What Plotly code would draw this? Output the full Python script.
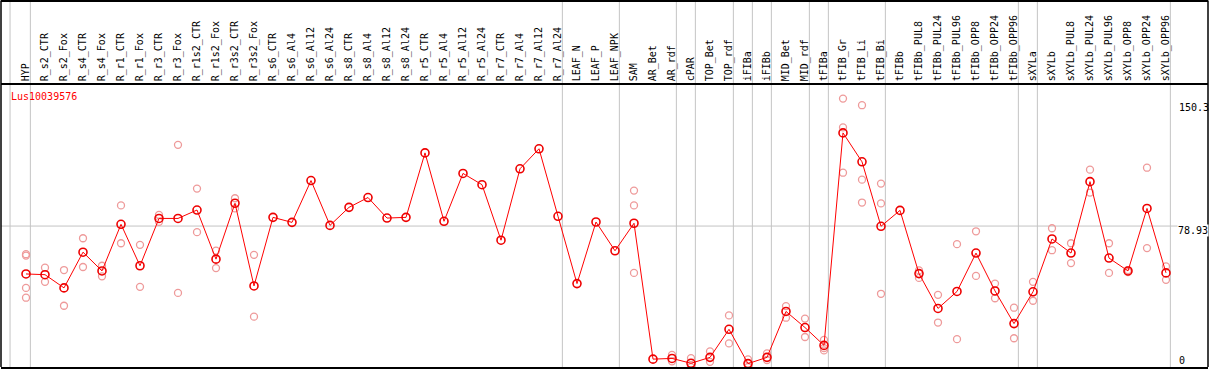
import plotly.graph_objects as go

# ---------------- data ----------------
gene = "Lus10039576"

categories = [
    "HYP", "R_s2_CTR", "R_s2_Fox", "R_s4_CTR", "R_s4_Fox", "R_r1_CTR", "R_r1_Fox",
    "R_r3_CTR", "R_r3_Fox", "R_r1s2_CTR", "R_r1s2_Fox", "R_r3s2_CTR", "R_r3s2_Fox",
    "R_s6_CTR", "R_s6_Al4", "R_s6_Al12", "R_s6_Al24", "R_s8_CTR", "R_s8_Al4",
    "R_s8_Al12", "R_s8_Al24", "R_r5_CTR", "R_r5_Al4", "R_r5_Al12", "R_r5_Al24",
    "R_r7_CTR", "R_r7_Al4", "R_r7_Al12", "R_r7_Al24", "LEAF_N", "LEAF_P", "LEAF_NPK",
    "SAM", "AR_Bet", "AR_rdf", "cPAR", "TOP_Bet", "TOP_rdf", "iFIBa", "iFIBb",
    "MID_Bet", "MID_rdf", "tFIBa", "tFIB_Gr", "tFIB_Li", "tFIB_Bi", "tFIBb",
    "tFIBb_PUL8", "tFIBb_PUL24", "tFIBb_PUL96", "tFIBb_OPP8", "tFIBb_OPP24", "tFIBb_OPP96",
    "sXYLa", "sXYLb", "sXYLb_PUL8", "sXYLb_PUL24", "sXYLb_PUL96", "sXYLb_OPP8",
    "sXYLb_OPP24", "sXYLb_OPP96",
]

mean_values = [
    52.1, 51.7, 44.3, 64.3, 53.8, 79.9, 56.7, 83.2, 83.2, 87.9, 60.4, 91.7, 45.4,
    83.8, 81.0, 104.4, 79.3, 89.4, 94.9, 83.4, 83.8, 119.9, 81.6, 108.4, 102.1,
    71.0, 111.0, 122.2, 84.4, 46.7, 81.2, 65.1,
    80.5, 4.4, 4.8, 2.1, 5.4, 21.1, 1.9, 5.4, 31.1, 22.1, 12.1, 131.1, 114.9, 78.8,
    87.7, 52.3, 32.8, 42.3, 63.8, 42.6, 24.3,
    42.1, 71.7, 63.8, 103.8, 61.0, 53.8, 88.8, 52.7,
]

replicate_values = {
    "HYP": [63.2, 62.4, 44.3, 38.8],
    "R_s2_CTR": [55.6, 47.7],
    "R_s2_Fox": [54.3, 34.3],
    "R_s4_CTR": [72.1, 56.0],
    "R_s4_Fox": [56.7, 50.8],
    "R_r1_CTR": [90.5, 69.3],
    "R_r1_Fox": [68.4, 44.9],
    "R_r3_CTR": [85.2, 81.3],
    "R_r3_Fox": [124.4, 41.5],
    "R_r1s2_CTR": [99.9, 75.5],
    "R_r1s2_Fox": [65.2, 55.4],
    "R_r3s2_CTR": [94.5, 88.8],
    "R_r3s2_Fox": [62.8, 28.2],
    "SAM": [98.8, 90.5, 52.7],
    "AR_rdf": [6.8, 3.2],
    "cPAR": [5.0, 0.0],
    "TOP_Bet": [8.7, 2.9],
    "TOP_rdf": [28.9, 13.2],
    "iFIBa": [4.3, 0.0],
    "iFIBb": [7.6, 3.9],
    "MID_Bet": [34.1, 27.6],
    "MID_rdf": [27.1, 16.8],
    "tFIBa": [15.2, 10.6, 9.3],
    "tFIB_Gr": [150.3, 134.2, 108.8],
    "tFIB_Li": [146.6, 104.9, 92.1],
    "tFIB_Bi": [102.7, 91.6, 41.0],
    "tFIBb_PUL8": [54.1, 49.9],
    "tFIBb_PUL24": [40.4, 24.9],
    "tFIBb_PUL96": [68.8, 15.6],
    "tFIBb_OPP8": [76.0, 51.0],
    "tFIBb_OPP24": [46.7, 38.5],
    "tFIBb_OPP96": [33.2, 16.1],
    "sXYLa": [47.7, 37.1],
    "sXYLb": [77.7, 65.4],
    "sXYLb_PUL8": [69.3, 58.2],
    "sXYLb_PUL24": [110.5, 97.7],
    "sXYLb_PUL96": [69.3, 52.7],
    "sXYLb_OPP8": [54.3, 53.2],
    "sXYLb_OPP24": [111.6, 66.6],
    "sXYLb_OPP96": [56.3, 48.8],
}

# last category of each tissue group (vertical separators drawn after them)
group_ends = ["HYP", "R_r7_Al24", "LEAF_NPK", "AR_rdf", "cPAR", "TOP_rdf", "iFIBa",
              "iFIBb", "MID_rdf", "tFIBa", "tFIB_Bi", "tFIBb_OPP96", "sXYLa", "sXYLb_OPP96"]

axis_max = 150.3
ref_value = 78.93
axis_min = 0

# ---------------- layout geometry ----------------
W, H = 1209, 370
ML, MR, MT, MB = 1, 1, 85, 1
plot_w = W - ML - MR
plot_h = H - MT - MB
step_px = 19.0
first_px = 26.0
x_lo = (ML - first_px) / step_px
x_hi = (ML + plot_w - first_px) / step_px
px_per_unit = ((MT + plot_h) - 98.7) / axis_max
y_hi = plot_h / px_per_unit

idx = list(range(len(categories)))

rep_x, rep_y = [], []
for i, c in enumerate(categories):
    for v in replicate_values.get(c, []):
        rep_x.append(i)
        rep_y.append(v)

fig = go.Figure()
fig.add_trace(go.Scatter(
    x=rep_x, y=rep_y, mode="markers",
    marker=dict(symbol="circle-open", size=7, color="#ee9a9a", line=dict(width=1.3, color="#ee9a9a")),
    hoverinfo="skip", showlegend=False,
))
fig.add_trace(go.Scatter(
    x=idx, y=mean_values, mode="lines+markers",
    line=dict(color="#ff0000", width=1),
    marker=dict(symbol="circle-open", size=8, color="#ee0000", line=dict(width=1.6, color="#ee0000")),
    showlegend=False,
))

shapes = []
top_paper = 1 + MT / plot_h
sep_positions = [-0.84] + [categories.index(g) + 0.23 for g in group_ends]
for xs in sep_positions:
    shapes.append(dict(type="line", xref="x", yref="paper", x0=xs, x1=xs, y0=0, y1=top_paper,
                       line=dict(color="#c4c4c4", width=1), layer="below"))
shapes.append(dict(type="line", xref="paper", yref="y", x0=0, x1=1, y0=ref_value, y1=ref_value,
                   line=dict(color="#c4c4c4", width=1), layer="below"))
# outer frame
shapes.append(dict(type="line", xref="paper", yref="paper", x0=0, x1=1, y0=top_paper - 0.5 / plot_h,
                   y1=top_paper - 0.5 / plot_h, line=dict(color="black", width=2)))
shapes.append(dict(type="line", xref="paper", yref="paper", x0=0, x1=0, y0=0, y1=top_paper,
                   line=dict(color="black", width=1.5)))
shapes.append(dict(type="line", xref="paper", yref="paper", x0=1, x1=1, y0=0, y1=top_paper,
                   line=dict(color="black", width=1.5)))

mono = "DejaVu Sans Mono"


def py(pix):
    return (MT + plot_h - pix) / plot_h


def pxx(pix):
    return (pix - ML) / plot_w


annotations = [
    dict(text=gene, xref="paper", yref="paper", x=pxx(9), y=py(97), xanchor="left", yanchor="middle",
         showarrow=False, font=dict(family=mono, size=10, color="#ff0000")),
    dict(text=f"{axis_max:g}", xref="paper", yref="paper", x=pxx(1177), y=py(108), xanchor="left",
         yanchor="middle", showarrow=False, font=dict(family=mono, size=10, color="black")),
    dict(text=f"{ref_value:g}", xref="paper", yref="paper", x=pxx(1177), y=py(232), xanchor="left",
         yanchor="middle", showarrow=False, bgcolor="white", borderpad=0,
         font=dict(family=mono, size=10, color="black")),
    dict(text=f"{axis_min:g}", xref="paper", yref="paper", x=pxx(1177), y=py(362), xanchor="left",
         yanchor="middle", showarrow=False, font=dict(family=mono, size=10, color="black")),
]

fig.update_layout(
    width=W, height=H,
    margin=dict(l=ML, r=MR, t=MT, b=MB, pad=0),
    paper_bgcolor="white", plot_bgcolor="white",
    shapes=shapes, annotations=annotations,
    xaxis=dict(range=[x_lo, x_hi], side="top", tickmode="array", tickvals=idx, ticktext=categories,
               tickangle=-90, tickfont=dict(family=mono, size=10, color="black"),
               showgrid=False, zeroline=False, ticks="", ticklen=0,
               showline=True, mirror=True, linecolor="black", linewidth=1.5),
    yaxis=dict(range=[0, y_hi], showgrid=False, zeroline=False, showticklabels=False, ticks="",
               showline=False),
    font=dict(family=mono),
)

fig.write_html(
    "out.html",
    config={"displayModeBar": False},
    post_script="document.body.style.margin='0';document.body.style.padding='0';"
                "document.body.style.overflow='hidden';",
)
